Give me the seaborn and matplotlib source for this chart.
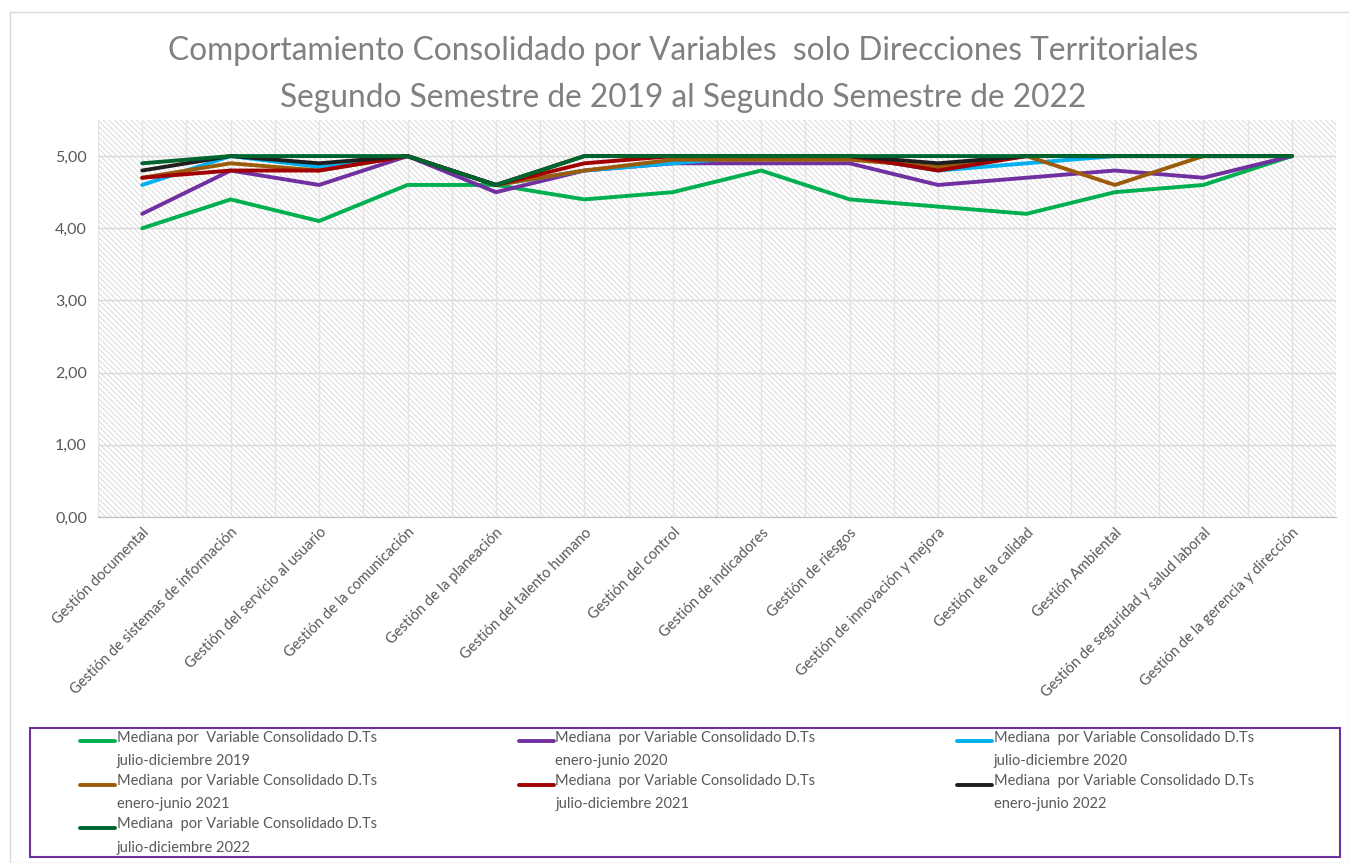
import numpy as np
import pandas as pd
import matplotlib
matplotlib.use("Agg")
import matplotlib.pyplot as plt
import seaborn as sns
from matplotlib.patches import Rectangle
from matplotlib.legend_handler import HandlerLine2D

categories = [
    "Gestión documental",
    "Gestión de sistemas de información",
    "Gestión del servicio al usuario",
    "Gestión de la comunicación",
    "Gestión de la planeación",
    "Gestión del talento humano",
    "Gestión del control",
    "Gestión de indicadores",
    "Gestión de riesgos",
    "Gestión de innovación y mejora",
    "Gestión de la calidad",
    "Gestión Ambiental",
    "Gestión de seguridad y salud laboral",
    "Gestión de la gerencia y dirección",
]

series_names = [
    "Mediana por  Variable Consolidado D.Ts\njulio-diciembre 2019",
    "Mediana  por Variable Consolidado D.Ts\nenero-junio 2020",
    "Mediana  por Variable Consolidado D.Ts\njulio-diciembre 2020",
    "Mediana  por Variable Consolidado D.Ts\nenero-junio 2021",
    "Mediana  por Variable Consolidado D.Ts\njulio-diciembre 2021",
    "Mediana  por Variable Consolidado D.Ts\nenero-junio 2022",
    "Mediana  por Variable Consolidado D.Ts\njulio-diciembre 2022",
]

jul_dic_2019 = [4.0, 4.4, 4.1, 4.6, 4.6, 4.4, 4.5, 4.8, 4.4, 4.3, 4.2, 4.5, 4.6, 5.0]
ene_jun_2020 = [4.2, 4.8, 4.6, 5.0, 4.5, 4.8, 4.9, 4.9, 4.9, 4.6, 4.7, 4.8, 4.7, 5.0]
jul_dic_2020 = [4.6, 5.0, 4.85, 5.0, 4.6, 4.8, 4.9, 5.0, 5.0, 4.8, 4.9, 5.0, 5.0, 5.0]
ene_jun_2021 = [4.7, 4.9, 4.8, 5.0, 4.6, 4.8, 4.95, 4.95, 4.95, 4.85, 5.0, 4.6, 5.0, 5.0]
jul_dic_2021 = [4.7, 4.8, 4.8, 5.0, 4.6, 4.9, 5.0, 5.0, 5.0, 4.8, 5.0, 5.0, 5.0, 5.0]
ene_jun_2022 = [4.8, 5.0, 4.9, 5.0, 4.6, 5.0, 5.0, 5.0, 5.0, 4.9, 5.0, 5.0, 5.0, 5.0]
jul_dic_2022 = [4.9, 5.0, 5.0, 5.0, 4.6, 5.0, 5.0, 5.0, 5.0, 5.0, 5.0, 5.0, 5.0, 5.0]

all_values = [jul_dic_2019, ene_jun_2020, jul_dic_2020, ene_jun_2021,
              jul_dic_2021, ene_jun_2022, jul_dic_2022]
colors = ["#00B050", "#7030A0", "#00B0F0", "#9C5B0A", "#A00000", "#1E1E1E", "#00642E"]

y_ticks = [0, 1, 2, 3, 4, 5]
y_tick_labels = ["0,00", "1,00", "2,00", "3,00", "4,00", "5,00"]

rows = []
for name, vals in zip(series_names, all_values):
    for i, v in enumerate(vals):
        rows.append({"pos": i, "serie": name, "valor": v})
df = pd.DataFrame(rows)

sns.set_style("white")
plt.rcParams["font.family"] = ["Lato", "DejaVu Sans"]
plt.rcParams["hatch.linewidth"] = 0.6
plt.rcParams["hatch.color"] = "#d4d4d4"

fig = plt.figure(figsize=(13.49, 8.63), dpi=100)
W, H = 1349, 863
ax = fig.add_axes([98 / W, 1 - 517 / H, (1336 - 98) / W, (517 - 120) / H])

# outer chart border
fig.patches.append(Rectangle((10 / W, 0), (1349 - 10) / W, 1 - 12 / H, transform=fig.transFigure,
                             fill=False, edgecolor="#d9d9d9", linewidth=1.0))

# hatched plot area background
ax.add_patch(Rectangle((0, 0), 1, 1, transform=ax.transAxes, facecolor="white",
                       edgecolor="#d4d4d4", hatch="\\\\\\\\\\\\", linewidth=0, zorder=0))

n = len(categories)
ax.set_xlim(-0.5, n - 0.5)
ax.set_ylim(0, 5.5)

# gridlines
for yv in y_ticks:
    ax.axhline(yv, color="#d9d9d9", linewidth=1.0, zorder=1)
for xv in np.arange(-0.5, n, 0.5):
    ax.axvline(xv, color="#e3e3e3", linewidth=1.0, zorder=1)

sns.lineplot(data=df, x="pos", y="valor", hue="serie", hue_order=series_names,
             palette=colors, linewidth=2.8, sort=False, ax=ax, zorder=3, legend=False)

for s in ["top", "right", "left"]:
    ax.spines[s].set_visible(False)
ax.spines["bottom"].set_color("#bfbfbf")
ax.spines["bottom"].set_zorder(4)

ax.set_yticks(y_ticks)
ax.set_yticklabels(y_tick_labels, fontsize=11.5, color="#595959")
ax.tick_params(axis="y", length=0, pad=8)

ax.set_xticks(np.arange(-0.5, n, 1.0))
ax.set_xticklabels([])
ax.tick_params(axis="x", which="major", length=5, color="#bfbfbf")
ax.set_xticks(np.arange(n), minor=True)
ax.set_xticklabels(categories, minor=True, rotation=45, ha="right",
                   rotation_mode="anchor", fontsize=10.5, color="#595959")
ax.tick_params(axis="x", which="minor", length=0, pad=6)
ax.set_xlabel("")
ax.set_ylabel("")

fig.text(683 / W, 1 - 51 / H, "Comportamiento Consolidado por Variables  solo Direcciones Territoriales",
         ha="center", va="center", fontsize=22.8, color="#808080")
fig.text(683 / W, 1 - 98 / H, "Segundo Semestre de 2019 al Segundo Semestre de 2022",
         ha="center", va="center", fontsize=22.8, color="#808080")

# legend box
fig.patches.append(Rectangle((30 / W, 1 - 857 / H), (1340 - 30) / W, (857 - 728) / H,
                             transform=fig.transFigure, fill=False,
                             edgecolor="#7030A0", linewidth=1.5))


class TopLineHandler(HandlerLine2D):
    """Line handle aligned with the first line of a two-line label."""
    def create_artists(self, legend, orig_handle, xdescent, ydescent, width, height,
                       fontsize, trans):
        return super().create_artists(legend, orig_handle, xdescent, ydescent - 12.5,
                                      width, height, fontsize, trans)


handles = [plt.Line2D([], [], color=c, linewidth=2.8) for c in colors]
order = [0, 3, 6, 1, 4, 2, 5]
leg = fig.legend([handles[i] for i in order], [series_names[i] for i in order],
                 ncol=3, loc="upper left", bbox_to_anchor=(70 / W, 1 - 721 / H),
                 frameon=False, fontsize=10.5, handlelength=2.4, handletextpad=0.12,
                 columnspacing=9.7, labelspacing=0.42, borderpad=0.2,
                 handler_map={plt.Line2D: TopLineHandler()})
for t in leg.get_texts():
    t.set_color("#595959")
    t.set_linespacing(1.82)

fig.savefig("out.png", dpi=100)
